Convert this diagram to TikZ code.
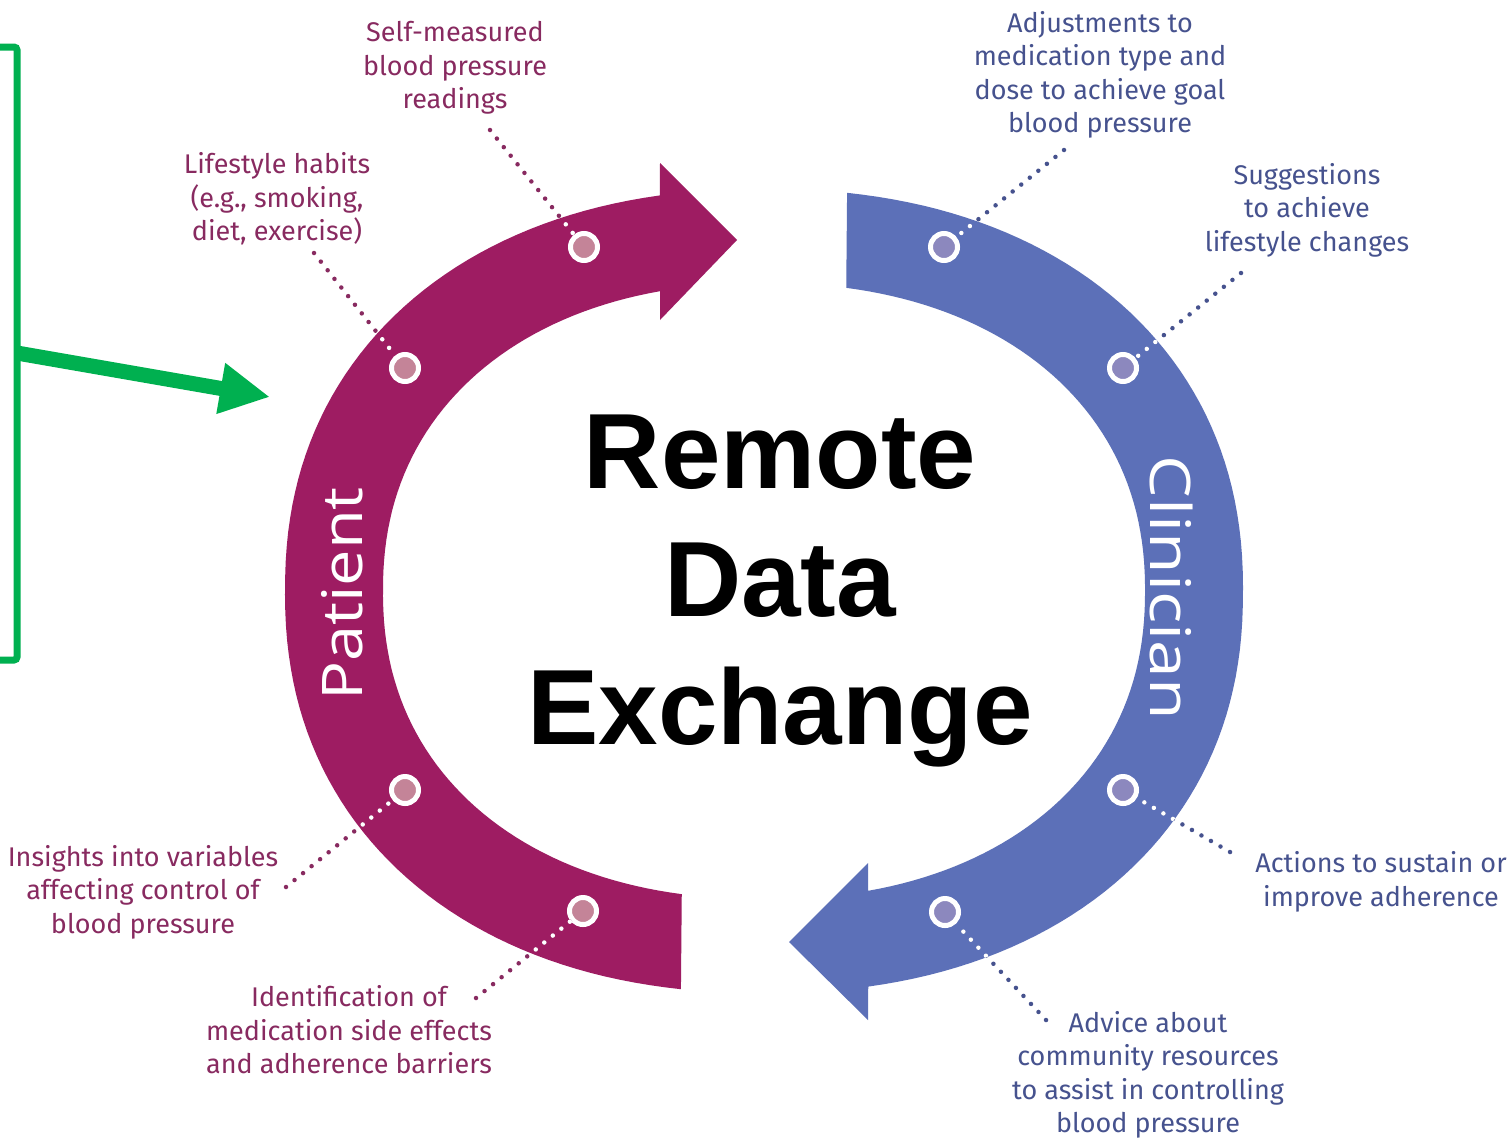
\documentclass[tikz,border=0pt]{standalone}
\usepackage{fontspec}
\usepackage{graphicx}
\usetikzlibrary{arrows.meta}
\setmainfont{Fira Sans}
\newfontfamily\lblfont{Fira Sans}
\newfontfamily\bigfont{Liberation Sans}
\newfontfamily\bandfont{Open Sans}
\definecolor{pmag}{RGB}{158,28,98}
\definecolor{cblue}{RGB}{92,112,184}
\definecolor{ptext}{RGB}{136,42,96}
\definecolor{ctext}{RGB}{70,82,142}
\definecolor{pdotc}{RGB}{196,132,152}
\definecolor{cdotc}{RGB}{140,136,190}
\definecolor{ggreen}{RGB}{0,176,80}
% superellipse-like ring: outer rx 479 ry 402, inner rx 381 ry 308 (n=2.2)
\def\patband{plot[domain=98.25:259.26,samples=90] ({764-479*abs(cos(\x))^0.909},{591+402*sin(\x)*abs(sin(\x))^(-0.0909)}) -- (660,163) -- (737,240) -- (660,320) -- plot[domain=256.13:100.64,samples=90] ({764-381*abs(cos(\x))^0.909},{591+308*sin(\x)*abs(sin(\x))^(-0.0909)}) -- cycle}
\def\clinband{plot[domain=-81.75:79.26,samples=90] ({764+479*abs(cos(\x))^0.909},{591+402*sin(\x)*abs(sin(\x))^(-0.0909)}) -- (868,1020) -- (789,942) -- (868,863) -- plot[domain=76.13:-79.36,samples=90] ({764+381*abs(cos(\x))^0.909},{591+308*sin(\x)*abs(sin(\x))^(-0.0909)}) -- cycle}
\begin{document}
\begin{tikzpicture}[x=1pt,y=-1pt,
  pdot/.style={circle, draw=white, line width=5pt, fill=pdotc, minimum size=27pt, inner sep=0pt},
  cdot/.style={circle, draw=white, line width=5pt, fill=cdotc, minimum size=27pt, inner sep=0pt},
  leader/.style={line width=4.5pt, line cap=round, dash pattern=on 0pt off 11pt},
  plabel/.style={font=\lblfont\fontsize{27}{33.5}\selectfont, text=ptext, align=center, inner sep=0pt},
  clabel/.style={font=\lblfont\fontsize{27}{33.5}\selectfont, text=ctext, align=center, inner sep=0pt},
  bandtext/.style={text=white, font=\bandfont\fontsize{56}{60}\selectfont, inner sep=0pt},
  gline/.style={ggreen, line width=7pt, rounded corners=3pt},
  garrow/.style={ggreen, line width=15pt, -{Triangle[length=50pt,width=48pt]}}]
\fill[white] (0,0) rectangle (1509,1141);
\useasboundingbox (0,0) rectangle (1509,1141);

% bands
\fill[pmag] \patband;
\fill[cblue] \clinband;

% band titles
\node[bandtext, rotate=90] (pat) at (342,594) {\scalebox{1.16}[1]{Patient}};
\node[bandtext, rotate=-90] (clin) at (1171,588) {\scalebox{1.21}[1]{Clinician}};

% central title
\node[font=\bigfont\bfseries\fontsize{107}{128}\selectfont, align=center, anchor=north, inner sep=0pt] (title) at (780,415) {Remote\\Data\\Exchange};

% dots
\node[pdot] (p1) at (584,247) {};
\node[pdot] (p2) at (405,368) {};
\node[pdot] (p3) at (405,790) {};
\node[pdot] (p4) at (583,911) {};
\node[cdot] (c1) at (944,247) {};
\node[cdot] (c2) at (1123,368) {};
\node[cdot] (c3) at (1123,790) {};
\node[cdot] (c4) at (945,912) {};

% leader ends
\coordinate (p1e) at (490,130);
\coordinate (p2e) at (314,253);
\coordinate (p3e) at (286,887);
\coordinate (p4e) at (476,998);
\coordinate (c1e) at (1064,150);
\coordinate (c2e) at (1241,273);
\coordinate (c3e) at (1230,852);
\coordinate (c4e) at (1046,1020);

% dark leaders
\draw[leader, ptext] (p1e) -- (p1);
\draw[leader, ptext] (p2e) -- (p2);
\draw[leader, ptext] (p3e) -- (p3);
\draw[leader, ptext] (p4e) -- (p4);
\draw[leader, ctext] (c1e) -- (c1);
\draw[leader, ctext] (c2e) -- (c2);
\draw[leader, ctext] (c3e) -- (c3);
\draw[leader, ctext] (c4e) -- (c4);

% white leader parts inside the bands
\begin{scope}
  \clip \patband;
  \draw[leader, white] (p1e) -- (p1);
  \draw[leader, white] (p2e) -- (p2);
  \draw[leader, white] (p3e) -- (p3);
  \draw[leader, white] (p4e) -- (p4);
\end{scope}
\begin{scope}
  \clip \clinband;
  \draw[leader, white] (c1e) -- (c1);
  \draw[leader, white] (c2e) -- (c2);
  \draw[leader, white] (c3e) -- (c3);
  \draw[leader, white] (c4e) -- (c4);
\end{scope}

% labels
\node[plabel] (l1) at (455,68) {Self-measured\\blood pressure\\readings};
\node[plabel] (l2) at (277,199) {Lifestyle habits\\(e.g., smoking,\\diet, exercise)};
\node[plabel] (l3) at (143,892) {Insights into variables\\affecting control of\\blood pressure};
\node[plabel] (l4) at (349,1030) {Identification of\\medication side effects\\and adherence barriers};
\node[clabel] (k1) at (1100,75) {Adjustments to\\medication type and\\dose to achieve goal\\blood pressure};
\node[clabel] (k2) at (1307,210) {Suggestions\\to achieve\\lifestyle changes};
\node[clabel] (k3) at (1381,882) {Actions to sustain or\\improve adherence};
\node[clabel] (k4) at (1148,1075) {Advice about\\community resources\\to assist in controlling\\blood pressure};

% green bracket and arrow
\coordinate (gtl) at (0,47);
\coordinate (gbl) at (0,660);
\coordinate (gs) at (17,353);
\coordinate (gt) at (270,397);
\draw[gline] (gtl) -- (17,47) -- (17,660) -- (gbl);
\draw[garrow] (gs) -- (gt);
\end{tikzpicture}
\end{document}
